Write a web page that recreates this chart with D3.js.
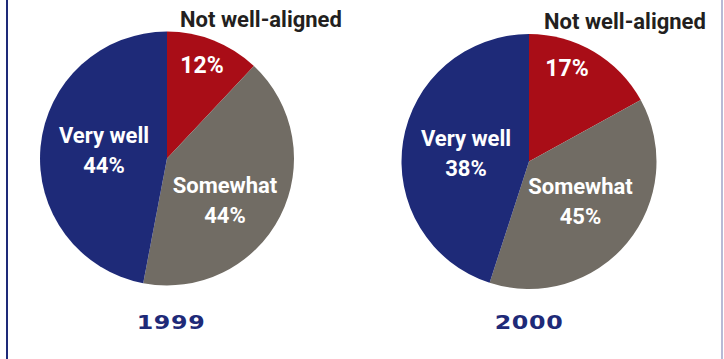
<!DOCTYPE html>
<html>
<head>
<meta charset="utf-8">
<script src="https://cdn.jsdelivr.net/npm/d3@7"></script>
<style>
  body { margin: 0; background: #fff; }
  svg { display: block; }
</style>
</head>
<body>
<div id="chart"></div>
<script>
// data
var years = ["1999", "2000"];
var categories = ["Not well-aligned", "Somewhat", "Very well"];
// slice sizes as drawn (angles measured on the picture)
var drawn1999 = [12, 41, 47];
var drawn2000 = [17, 38, 45];
// percentages printed on the slices
var labels1999 = ["12%", "44%", "44%"];
var labels2000 = ["17%", "45%", "38%"];

var width = 724, height = 359;
var navy = "#1e2a78";
var color = d3.scaleOrdinal()
    .domain(categories)
    .range(["#a90d17", "#716c64", navy]);

var svg = d3.select("#chart")
  .append("svg")
    .attr("width", width)
    .attr("height", height);

// frame lines
svg.append("rect").attr("x", 6).attr("y", 0).attr("width", 2).attr("height", height).attr("fill", navy);
svg.append("rect").attr("x", 721).attr("y", 0).attr("width", 2).attr("height", height).attr("fill", "#b7bad6");

var pies = [
  {year: years[0], values: drawn1999, labels: labels1999, cx: 167, cy: 158.5, r: 127, yx: 171,
   pos: [[261, 26.7], [35, -86], [58, 34], [-63, -16]]},
  {year: years[1], values: drawn2000, labels: labels2000, cx: 529, cy: 161.5, r: 127.5, yx: 529,
   pos: [[625, 29.3], [38, -85.5], [51.5, 32.5], [-63, -15.5]]}
];

var pie = d3.pie().sort(null).value(function(d) { return d.value; });
var labelFont = "Roboto, 'Liberation Sans', sans-serif";

pies.forEach(function(p) {
  var arc = d3.arc().innerRadius(0).outerRadius(p.r);
  var rows = categories.map(function(c, i) { return {key: c, value: p.values[i], label: p.labels[i]}; });

  var g = svg.append("g")
      .attr("transform", "translate(" + p.cx + "," + p.cy + ")");

  g.selectAll("path")
    .data(pie(rows))
    .enter().append("path")
      .attr("d", arc)
      .attr("fill", function(d) { return color(d.data.key); });

  // category name outside the small slice
  svg.append("text")
      .attr("x", p.pos[0][0])
      .attr("y", p.pos[0][1])
      .attr("text-anchor", "middle")
      .attr("font-family", labelFont)
      .attr("font-weight", 700)
      .attr("font-size", 22)
      .attr("fill", "#231f20")
      .text(categories[0]);

  // percent in small slice
  g.append("text")
      .attr("x", p.pos[1][0])
      .attr("y", p.pos[1][1])
      .attr("text-anchor", "middle")
      .attr("font-family", labelFont)
      .attr("font-weight", 700)
      .attr("font-size", 23)
      .attr("fill", "#fff")
      .text(rows[0].label);

  // name + percent inside the two big slices
  [1, 2].forEach(function(i) {
    var t = g.append("text")
        .attr("text-anchor", "middle")
        .attr("font-family", labelFont)
        .attr("font-weight", 700)
        .attr("font-size", 22)
        .attr("fill", "#fff");
    t.append("tspan").attr("x", p.pos[i + 1][0]).attr("y", p.pos[i + 1][1]).text(rows[i].key);
    t.append("tspan").attr("x", p.pos[i + 1][0]).attr("y", p.pos[i + 1][1] + 30).text(rows[i].label);
  });

  // year under each pie, in a wide (stretched) face
  svg.append("g")
      .attr("transform", "translate(" + p.yx + ",329) scale(1.25,1)")
    .append("text")
      .attr("text-anchor", "middle")
      .attr("font-family", "'DejaVu Sans', sans-serif")
      .attr("font-weight", 700)
      .attr("font-size", 19)
      .attr("letter-spacing", 0.5)
      .attr("fill", navy)
      .text(p.year);
});
</script>
</body>
</html>
